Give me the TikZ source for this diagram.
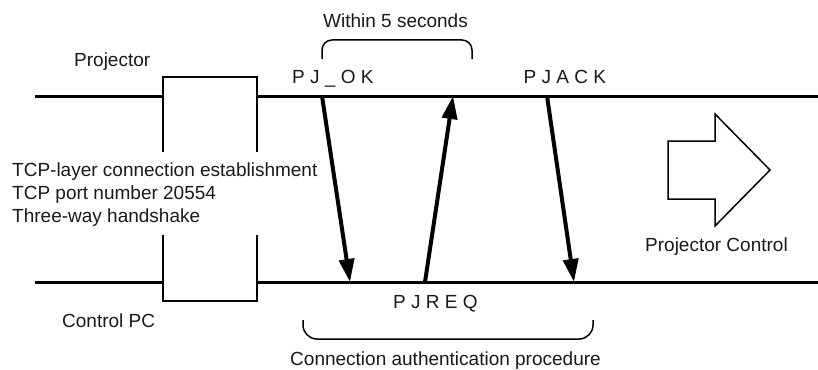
\documentclass[tikz,border=0pt]{standalone}
\usepackage{fontspec}
\setmainfont{Liberation Sans}
\usetikzlibrary{arrows.meta}
\begin{document}
\begin{tikzpicture}[x=1pt,y=-1pt,
  txt/.style={inner sep=0pt,anchor=base west,text=black!90,font=\fontsize{19}{23}\selectfont},
  lifeline/.style={line width=3pt},
  boxline/.style={line width=2pt},
  msg/.style={line width=4pt,-{Triangle[length=23pt,width=15pt]}},
  bracket/.style={line width=1.5pt,rounded corners=11pt},
  bigarrow/.style={line width=1.5pt,line join=miter}]
\useasboundingbox (0,0) rectangle (818,369);
% coordinates
\coordinate (tl) at (35,96);
\coordinate (tr) at (818,96);
\coordinate (bl) at (35,282);
\coordinate (br) at (818,282);
\coordinate (okS) at (322,96);
\coordinate (okE) at (350,282);
\coordinate (reqS) at (425,282);
\coordinate (reqE) at (453,96);
\coordinate (ackS) at (547,96);
\coordinate (ackE) at (574,282);
% lifelines with the connection box
\draw[lifeline] (tl) -- (163,96);
\draw[lifeline] (257,96) -- (tr);
\draw[lifeline] (bl) -- (163,282);
\draw[lifeline] (257,282) -- (br);
\draw[boxline,line join=miter] (163,152) -- (163,77) -- (257,77) -- (257,152);
\draw[boxline,line join=miter] (163,235) -- (163,301) -- (257,301) -- (257,235);
% messages
\draw[msg] (okS) -- (okE);
\draw[msg] (reqS) -- (reqE);
\draw[msg] (ackS) -- (ackE);
% brackets
\draw[bracket,rounded corners=10pt] (322,59) -- (322,40) -- (472,40) -- (472,59);
\draw[bracket,rounded corners=14pt] (303,320) -- (303,339) -- (593,339) -- (593,320);
% big arrow
\draw[bigarrow] (668,141) -- (715,141) -- (715,114) -- (770,170) -- (715,226) -- (715,199) -- (668,199) -- cycle;
% texts
\node[txt,anchor=base] (within) at (395.5,28) {Within 5 seconds};
\node[txt] (proj) at (74,66.7) {Projector};
\node[txt] (pc) at (62,327.7) {Control PC};
\node[txt] (tcp1) at (12,176.7) {TCP-layer connection establishment};
\node[txt] (tcp2) at (12,199.5) {TCP port number 20554};
\node[txt] (tcp3) at (12,222.7) {Three-way handshake};
\node[txt] (pjok) at (292,83) {P J \_ O K};
\node[txt] (pjack) at (523.5,83) {P J A C K};
\node[txt] (pjreq) at (393,308) {P J R E Q};
\node[txt] (pctl) at (645,251.7) {Projector Control};
\node[txt,anchor=base] (auth) at (445.5,365.5) {Connection authentication procedure};
\end{tikzpicture}
\end{document}
